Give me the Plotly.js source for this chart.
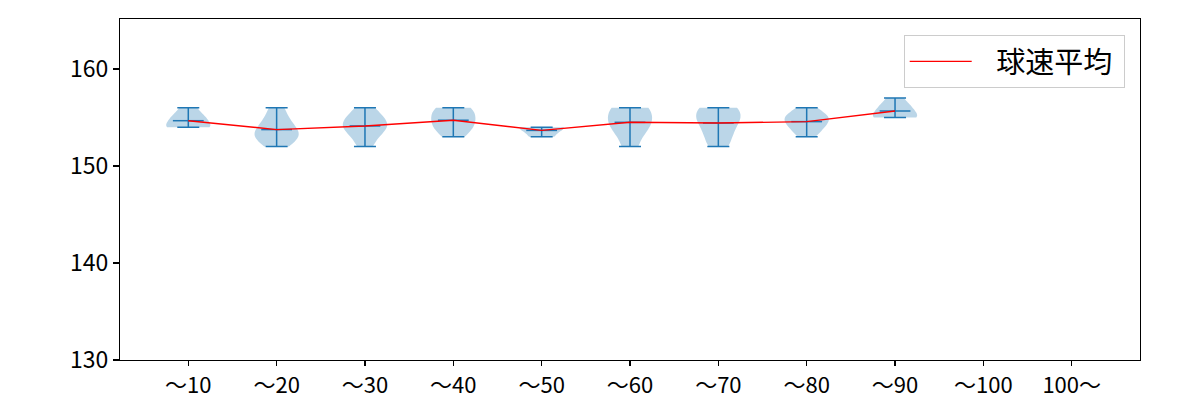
<!DOCTYPE html>
<html>
<head>
<meta charset="utf-8">
<script src="https://cdn.plot.ly/plotly-3.0.1.min.js"></script>
<style>html,body{margin:0;padding:0;background:#fff;}#chart{width:1200px;height:400px;}</style>
</head>
<body>
<div id="chart"></div>
<script>
// categories (tick labels) and their positions
const categories = ["〜10","〜20","〜30","〜40","〜50","〜60","〜70","〜80","〜90","〜100","100〜"];
const positions = [1,2,3,4,5,6,7,8,9,10,11];

// pitch speed samples (km/h) per category
const s10  = [154,154,154,155,155,156];
const s20  = [152,153,153,153,154,154,155,156];
const s30  = [152,153,154,154,154,155,155,156];
const s40  = [153,154,154,155,155,156,156];
const s50  = [153,154,154];
const s60  = [152,154,154,155,156,156];
const s70  = [152,153,154,155,155,156,156];
const s80  = [153,154,154,155,155,155,156];
const s90  = [155,155,155,156,156,157];
const s100 = [];
const s100p = [];
const samples = [s10,s20,s30,s40,s50,s60,s70,s80,s90,s100,s100p];

const BLUE = '#1f77b4';
const mean = a => a.reduce((p,c)=>p+c,0)/a.length;
function scottBw(a){
  const m = mean(a);
  const v = a.reduce((p,c)=>p+(c-m)*(c-m),0)/(a.length-1);
  return Math.sqrt(v)*Math.pow(a.length,-0.2);
}

const traces = [];
const mx=[], my=[], lo=[], hi=[];
samples.forEach((s,i)=>{
  if(!s.length) return;
  traces.push({
    type:'violin', x:s.map(()=>positions[i]), y:s,
    width:0.5, spanmode:'hard', scalemode:'width', bandwidth:scottBw(s),
    points:false, box:{visible:false}, meanline:{visible:false},
    fillcolor:'rgba(31,119,180,0.3)', line:{width:0, color:'rgba(0,0,0,0)'},
    showlegend:false, hoverinfo:'skip'
  });
  const m = mean(s);
  mx.push(positions[i]); my.push(m);
  lo.push(m-Math.min(...s)); hi.push(Math.max(...s)-m);
});
// extrema bars with caps
traces.push({
  type:'scatter', mode:'markers', x:mx, y:my,
  marker:{symbol:'line-ew', size:22, color:BLUE, line:{width:1.5, color:BLUE}},
  error_y:{type:'data', symmetric:false, array:hi, arrayminus:lo, width:11, thickness:1.5, color:BLUE},
  showlegend:false, hoverinfo:'skip'
});
// mean line
traces.push({
  type:'scatter', mode:'lines', x:mx, y:my, name:'\u00a0\u00a0\u00a0球速平均\u00a0',
  line:{color:'#ff0000', width:1.4}
});

const layout = {
  width:1200, height:400,
  margin:{l:120, r:60, t:19, b:40},
  paper_bgcolor:'#fff', plot_bgcolor:'#fff',
  font:{family:'"Noto Sans CJK JP", "DejaVu Sans", sans-serif', size:23, color:'#000'},
  showlegend:true,
  legend:{x:0.985, y:0.953, xanchor:'right', yanchor:'top',
    bordercolor:'#cccccc', borderwidth:1, bgcolor:'rgba(255,255,255,0.8)',
    itemwidth:62, font:{size:29, color:'#000'}},
  xaxis:{range:[0.227,11.773], tickvals:positions, ticktext:categories,
    tickfont:{size:22},
    showgrid:false, zeroline:false, showline:true, mirror:true, linecolor:'#000', linewidth:1.1,
    ticks:'outside', ticklen:5, tickwidth:1.1, tickcolor:'#000'},
  yaxis:{range:[130,165.15], tickvals:[130,140,150,160],
    showgrid:false, zeroline:false, showline:true, mirror:true, linecolor:'#000', linewidth:1.1,
    ticks:'outside', ticklen:6, tickwidth:1.1, tickcolor:'#000'}
};
Plotly.newPlot('chart', traces, layout, {staticPlot:true, displayModeBar:false});
</script>
</body>
</html>
